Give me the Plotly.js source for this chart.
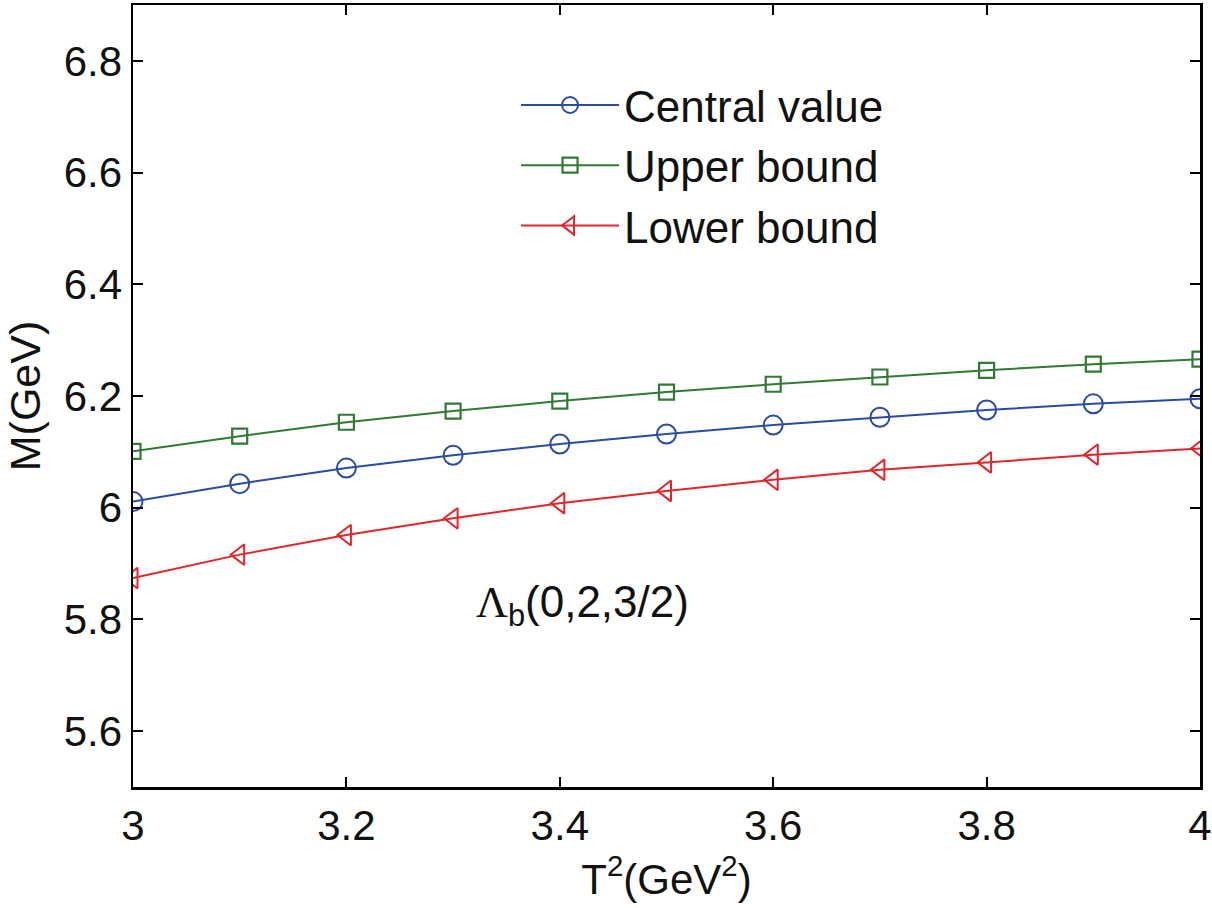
<!DOCTYPE html>
<html><head><meta charset="utf-8">
<script src="https://cdn.plot.ly/plotly-3.0.1.min.js"></script>
<style>html,body{margin:0;padding:0;background:#fff}#chart{width:1212px;height:908px}</style>
</head><body><div id="chart"></div>
<script>
const T2 = [3.0, 3.1, 3.2, 3.3, 3.4, 3.5, 3.6, 3.7, 3.8, 3.9, 4.0];
const centralValue = [6.011, 6.043, 6.071, 6.094, 6.114, 6.132, 6.148, 6.162, 6.175, 6.186, 6.195];
const upperBound   = [6.101, 6.128, 6.153, 6.173, 6.191, 6.207, 6.221, 6.234, 6.246, 6.257, 6.266];
const lowerBound   = [5.874, 5.916, 5.951, 5.981, 6.008, 6.030, 6.050, 6.068, 6.081, 6.095, 6.106];
const seriesNames = ['Central value', 'Upper bound', 'Lower bound'];
const xTicks = [3, 3.2, 3.4, 3.6, 3.8, 4];
const yTicks = [5.6, 5.8, 6.0, 6.2, 6.4, 6.6, 6.8];
const labelText = '<span style="font-family:\'Liberation Serif\',serif">Λ</span><sub>b</sub>(0,2,3/2)';

const FONT = 'Liberation Sans, Arial, Helvetica, sans-serif';
const traces = [
  {x: T2, y: centralValue, name: seriesNames[0], mode: 'lines+markers',
   line: {color: '#2b4aa8', width: 2},
   marker: {symbol: 'circle-open', size: 19, color: '#2b4aa8', line: {width: 2, color: '#2b4aa8'}}},
  {x: T2, y: upperBound, name: seriesNames[1], mode: 'lines+markers',
   line: {color: '#2f7a34', width: 2},
   marker: {symbol: 'square-open', size: 15, color: '#2f7a34', line: {width: 2.2, color: '#2f7a34'}}},
  {x: T2, y: lowerBound, name: seriesNames[2], mode: 'lines+markers',
   line: {color: '#e3262b', width: 2},
   marker: {symbol: 'triangle-left-open', size: 18, color: '#e3262b', line: {width: 2, color: '#e3262b'}}}
];

const axisCommon = {
  showline: true, linecolor: '#000', linewidth: 2.5, mirror: 'ticks',
  ticks: 'inside', ticklen: 10, tickwidth: 2, tickcolor: '#000',
  showgrid: false, zeroline: false,
  tickfont: {family: FONT, size: 42, color: '#111'}
};

const layout = {
  width: 1212, height: 908,
  margin: {l: 133, r: 12, t: 5, b: 121},
  paper_bgcolor: '#fff', plot_bgcolor: '#fff',
  showlegend: true,
  legend: {x: 0.359, xanchor: 'left', y: 0.917, yanchor: 'top', tracegroupgap: 0,
           bgcolor: 'rgba(0,0,0,0)', borderwidth: 0, itemwidth: 98,
           font: {family: FONT, size: 44, color: '#111'}},
  xaxis: Object.assign({}, axisCommon, {
    range: [3, 4], tickvals: xTicks, ticktext: xTicks.map(String),
    title: {text: 'T<sup>2</sup>(GeV<sup>2</sup>)', font: {family: FONT, size: 42, color: '#111'}, standoff: 12}
  }),
  yaxis: Object.assign({}, axisCommon, {
    range: [5.5, 6.9], tickvals: yTicks, ticktext: yTicks.map(v => String(v)),
    title: {text: 'M(GeV)', font: {family: FONT, size: 43, color: '#111'}, standoff: 10}
  }),
  annotations: [{
    x: 3.421, y: 5.826, xref: 'x', yref: 'y', showarrow: false,
    text: labelText, font: {family: FONT, size: 44, color: '#111'}
  }]
};

Plotly.newPlot('chart', traces, layout, {displayModeBar: false, staticPlot: true});
</script>
</body></html>
